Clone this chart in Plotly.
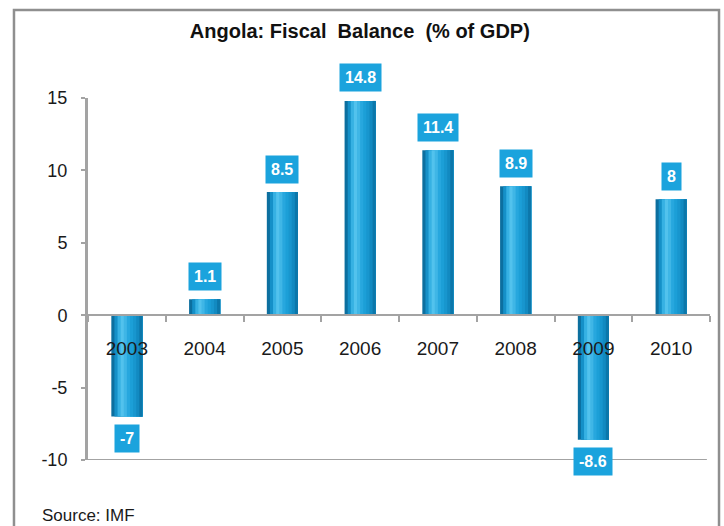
import plotly.graph_objects as go

# Angola fiscal balance, % of GDP (IMF)
years = ["2003", "2004", "2005", "2006", "2007", "2008", "2009", "2010"]
balance = [-7, 1.1, 8.5, 14.8, 11.4, 8.9, -8.6, 8]
value_labels = ["-7", "1.1", "8.5", "14.8", "11.4", "8.9", "-8.6", "8"]
y_ticks = [-10, -5, 0, 5, 10, 15]
y_tick_text = ["-10", "-5", "0", "5", "10", "15"]

# strip colours across each bar, left to right, for a cylinder-like shading
strip_colors = ["#0c6f9f", "#1590c8", "#36b1e3", "#52c2ed", "#3fb6e6",
                "#27a7de", "#1c9fd7", "#1896ce", "#128ac1", "#0c77aa"]

NARROW = "Liberation Sans Narrow, Arial Narrow, Liberation Sans, Arial, sans-serif"
SANS = "Liberation Sans, Arial, sans-serif"
LABEL_BLUE = "#1ba3dd"
AXIS_GREY = "#a3a3a3"

bar_width = 0.40
n = len(strip_colors)
w = bar_width / n

fig = go.Figure()
# each strip runs from its own left edge to the bar's right edge; the next
# strip is painted over it, so no seams appear between strips
for i, c in enumerate(strip_colors):
    fig.add_trace(go.Bar(
        x=years, y=balance,
        width=bar_width - i * w, offset=-bar_width / 2 + i * w,
        marker=dict(color=c, line=dict(width=0)),
        hoverinfo="skip" if i else "x+y",
        showlegend=False,
    ))

# value boxes above positive bars, below negative ones
# (annotation x on a category axis is the category's serial index)
for idx, (v, txt) in enumerate(zip(balance, value_labels)):
    fig.add_annotation(
        x=idx, y=v, text=f"<b>{txt}</b>", showarrow=False,
        yshift=23 if v > 0 else -22,
        font=dict(family=NARROW, size=16, color="white"),
        bgcolor=LABEL_BLUE, borderpad=5,
    )

fig.add_annotation(
    text="Source: IMF", xref="paper", yref="paper",
    x=-0.077, y=-0.152, xanchor="left", yanchor="middle", showarrow=False,
    font=dict(family=NARROW, size=17, color="#1a1a1a"),
)

# plot-area bottom rule at -10
fig.add_shape(type="line", xref="paper", yref="y", x0=-0.005, x1=0.995,
              y0=-10, y1=-10, line=dict(color=AXIS_GREY, width=2))
# outer frame
fig.add_shape(type="rect", xref="paper", yref="paper",
              x0=-0.119, x1=1.0145, y0=-0.25, y1=1.243,
              line=dict(color="#8f8f8f", width=2.5), layer="below")

fig.update_layout(
    width=724, height=526,
    margin=dict(l=88, r=14, t=98, b=66),
    paper_bgcolor="white", plot_bgcolor="white",
    barmode="overlay",
    title=dict(text="<b>Angola: Fiscal  Balance  (% of GDP)</b>",
               xref="container", yref="container",
               x=0.497, y=1 - 31 / 526, xanchor="center", yanchor="middle",
               font=dict(family=NARROW, size=20, color="#111111")),
    xaxis=dict(
        type="category", range=[-0.5, len(years) - 0.5],
        anchor="free", position=0.4,
        showline=True, linecolor=AXIS_GREY, linewidth=2,
        ticks="outside", tickson="boundaries", ticklen=6, tickwidth=2,
        tickcolor=AXIS_GREY, ticklabelstandoff=16, tickangle=0,
        tickfont=dict(family=SANS, size=19, color="#1a1a1a"),
        showgrid=False, zeroline=False,
    ),
    yaxis=dict(
        range=[-10, 15], tickvals=y_ticks, ticktext=y_tick_text,
        showline=True, linecolor=AXIS_GREY, linewidth=3,
        ticks="outside", ticklen=4, tickwidth=2, tickcolor=AXIS_GREY,
        ticklabelstandoff=10,
        tickfont=dict(family=SANS, size=18, color="#1a1a1a"),
        showgrid=False, zeroline=False,
    ),
)

fig.write_html("out.html")
